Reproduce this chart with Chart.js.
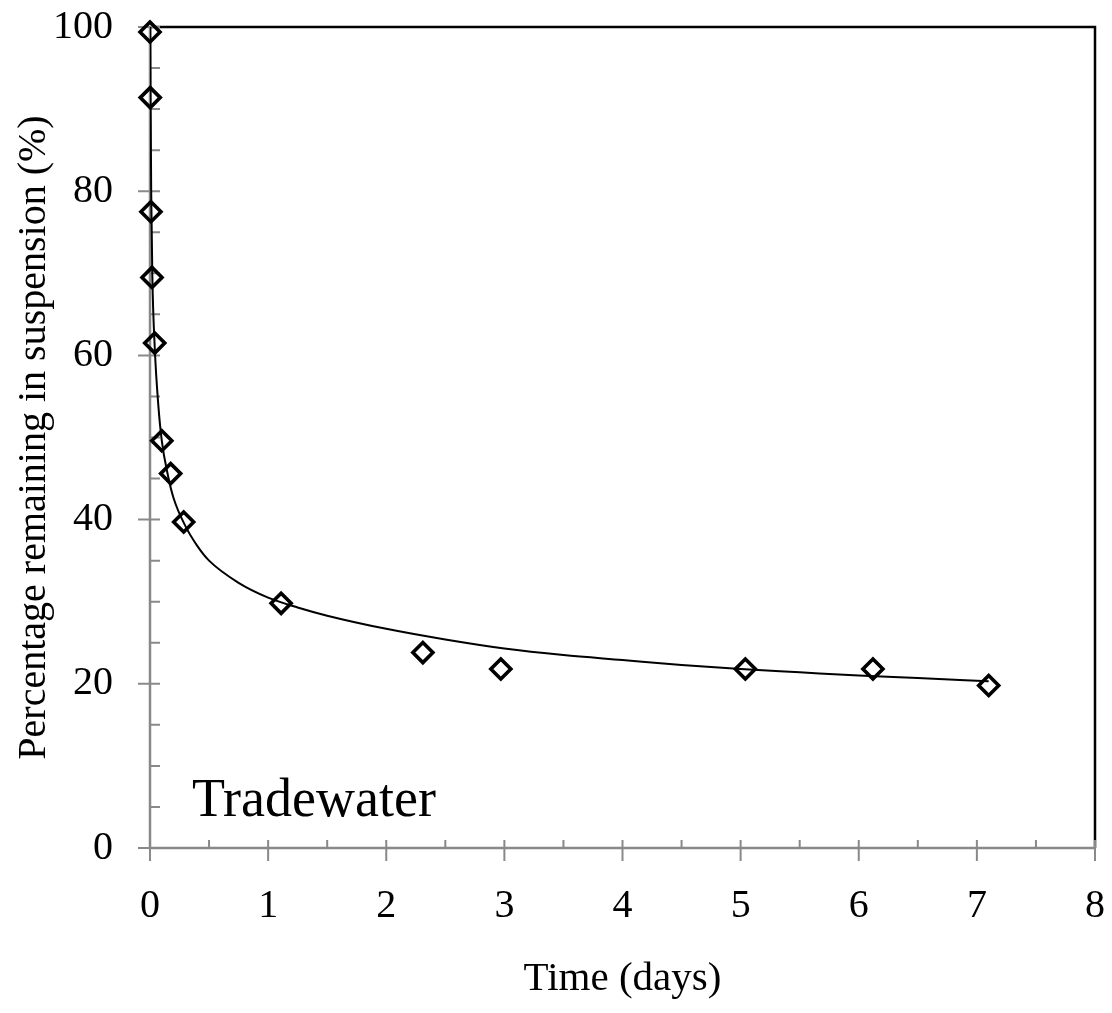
<!DOCTYPE html>
<html>
<head>
<meta charset="utf-8">
<script src="https://cdn.jsdelivr.net/npm/chart.js@4.4.1/dist/chart.umd.min.js"></script>
<style>
  html, body { margin: 0; padding: 0; background: #fff; }
  #wrap { width: 1112px; height: 1013px; }
</style>
</head>
<body>
<div id="wrap"><canvas id="settlingChart"></canvas></div>
<script>
// measured points (time in days, % left in suspension)
var timeDays = [0, 0.002, 0.008, 0.017, 0.04, 0.10, 0.175, 0.285, 1.11, 2.31, 2.97, 5.04, 6.12, 7.10];
var pctRemaining = [99.4, 91.4, 77.5, 69.5, 61.5, 49.6, 45.6, 39.7, 29.8, 23.8, 21.8, 21.8, 21.8, 19.8];

// trend line
var fitTime = [0.003, 0.005, 0.01, 0.02, 0.04, 0.07, 0.1, 0.15, 0.2, 0.3, 0.4, 0.5, 0.75, 1.0, 1.25, 1.5, 2.0, 2.5, 3.0, 3.5, 4.0, 4.5, 5.0, 5.5, 6.0, 6.5, 7.1];
var fitPct = [100, 92, 80, 69.5, 61, 54, 49.6, 45.5, 42.6, 39.2, 36.8, 35.0, 32.3, 30.5, 29.3, 28.3, 26.7, 25.4, 24.3, 23.5, 22.9, 22.3, 21.8, 21.4, 21.0, 20.7, 20.3];

var xTicks = [0, 1, 2, 3, 4, 5, 6, 7, 8];
var yTicks = [0, 20, 40, 60, 80, 100];
var panelLabel = 'Tradewater';

var serif = '"Liberation Serif", "Times New Roman", serif';

function toXY(xs, ys) {
  return xs.map(function (x, i) { return { x: x, y: ys[i] }; });
}

var axisFrame = {
  id: 'axisFrame',
  beforeDatasetsDraw: function (chart) {
    var ctx = chart.ctx, a = chart.chartArea;
    var xs = chart.scales.x, ys = chart.scales.y;
    ctx.save();
    // black top/right frame
    ctx.strokeStyle = '#000';
    ctx.lineWidth = 2.5;
    ctx.beginPath();
    ctx.moveTo(a.left, a.top);
    ctx.lineTo(a.right, a.top);
    ctx.lineTo(a.right, a.bottom);
    ctx.stroke();
    // gray axes with ticks
    ctx.strokeStyle = '#898989';
    ctx.lineWidth = 2.5;
    ctx.beginPath();
    ctx.moveTo(a.left, a.top);
    ctx.lineTo(a.left, a.bottom);
    ctx.lineTo(a.right, a.bottom);
    ctx.stroke();
    ctx.lineWidth = 2;
    ctx.beginPath();
    var v, p;
    for (v = 0; v <= 100; v += 5) {
      p = ys.getPixelForValue(v);
      if (v % 20 === 0) { ctx.moveTo(a.left - 12, p); ctx.lineTo(a.left + 10, p); }
      else { ctx.moveTo(a.left, p); ctx.lineTo(a.left + 10, p); }
    }
    for (v = 0; v <= 8; v += 0.5) {
      p = xs.getPixelForValue(v);
      if (v % 1 === 0) { ctx.moveTo(p, a.bottom - 8); ctx.lineTo(p, a.bottom + 13); }
      else { ctx.moveTo(p, a.bottom - 8); ctx.lineTo(p, a.bottom); }
    }
    ctx.stroke();
    // panel name
    ctx.fillStyle = '#000';
    ctx.font = '54px ' + serif;
    ctx.textAlign = 'left';
    ctx.textBaseline = 'alphabetic';
    ctx.fillText(panelLabel, a.left + 42, 816);
    ctx.restore();
  }
};

var ctx = document.getElementById('settlingChart');
var settlingChart = new Chart(ctx, {
  type: 'scatter',
  data: {
    datasets: [{
      label: 'Fit',
      data: toXY(fitTime, fitPct),
      showLine: true,
      borderColor: '#000',
      borderWidth: 2,
      pointRadius: 0,
      cubicInterpolationMode: 'monotone',
      order: 2
    }, {
      label: 'Measured',
      data: toXY(timeDays, pctRemaining),
      showLine: false,
      clip: false,
      pointStyle: 'rectRot',
      pointRadius: 10,
      pointBorderWidth: 3.6,
      pointBorderColor: '#000',
      pointBackgroundColor: 'rgba(0,0,0,0)',
      order: 1
    }]
  },
  options: {
    responsive: true,
    maintainAspectRatio: false,
    animation: false,
    events: [],
    layout: { padding: { top: 27, right: 17, left: 0, bottom: 0 } },
    plugins: {
      legend: { display: false },
      tooltip: { enabled: false }
    },
    scales: {
      x: {
        type: 'linear',
        min: 0,
        max: 8,
        afterFit: function (s) { s.height = 165; s.paddingLeft = 0; s.paddingRight = 0; },
        afterBuildTicks: function (s) { s.ticks = xTicks.map(function (v) { return { value: v }; }); },
        grid: { display: false },
        border: { display: false },
        ticks: { color: '#000', padding: 26, font: { family: serif, size: 40 } },
        title: {
          display: true,
          text: 'Time (days)',
          color: '#000',
          padding: { top: 0, bottom: 9 },
          font: { family: serif, size: 41 }
        }
      },
      y: {
        type: 'linear',
        min: 0,
        max: 100,
        afterFit: function (s) { s.width = 150; s.paddingTop = 0; s.paddingBottom = 0; },
        afterBuildTicks: function (s) { s.ticks = yTicks.map(function (v) { return { value: v }; }); },
        grid: { display: false },
        border: { display: false },
        ticks: { color: '#000', padding: 29, font: { family: serif, size: 40 } },
        title: {
          display: true,
          text: 'Percentage remaining in suspension (%)',
          color: '#000',
          padding: { top: 10, bottom: 0 },
          font: { family: serif, size: 40 }
        }
      }
    }
  },
  plugins: [axisFrame]
});
</script>
</body>
</html>
